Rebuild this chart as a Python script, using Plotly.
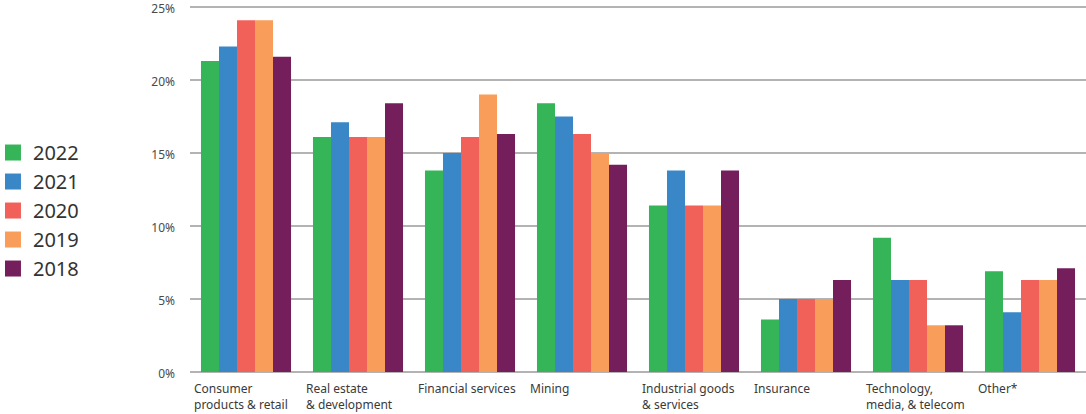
import plotly.graph_objects as go

categories = ["Consumer<br>products & retail", "Real estate<br>& development", "Financial services",
              "Mining", "Industrial goods<br>& services", "Insurance",
              "Technology,<br>media, & telecom", "Other*"]
years = ["2022", "2021", "2020", "2019", "2018"]
v2022 = [21.3, 16.1, 13.8, 18.4, 11.4, 3.6, 9.2, 6.9]
v2021 = [22.3, 17.1, 15.0, 17.5, 13.8, 5.0, 6.3, 4.1]
v2020 = [24.1, 16.1, 16.1, 16.3, 11.4, 5.0, 6.3, 6.3]
v2019 = [24.1, 16.1, 19.0, 15.0, 11.4, 5.0, 3.2, 6.3]
v2018 = [21.6, 18.4, 16.3, 14.2, 13.8, 6.3, 3.2, 7.1]
series = [v2022, v2021, v2020, v2019, v2018]
colors = ["#35b558", "#3a87c8", "#f2605a", "#f89d5a", "#751e5c"]
yticks = [0, 5, 10, 15, 20, 25]

FONT = "Noto Sans"
fig = go.Figure()
xs = list(range(len(categories)))
for name, vals, c in zip(years, series, colors):
    fig.add_trace(go.Bar(x=xs, y=vals, name=name, marker=dict(color=c, line=dict(width=0)),
                         showlegend=False))
    fig.add_trace(go.Scatter(x=[None], y=[None], mode="markers", name=name,
                             marker=dict(symbol="square", size=17, color=c),
                             legendgroup=name, showlegend=True))

for i, cat in enumerate(categories):
    fig.add_annotation(x=i, y=0, xref="x", yref="y", text=cat, showarrow=False,
                       xanchor="left", yanchor="top", align="left", xshift=-56 + 2, yshift=-6,
                       font=dict(family=FONT, size=12, color="#3a3a3a"))

fig.update_layout(
    width=1086, height=414,
    margin=dict(l=190, r=0, t=5, b=42, autoexpand=False),
    plot_bgcolor="white", paper_bgcolor="white",
    barmode="group", bargap=0.196, bargroupgap=0,
    font=dict(family=FONT, color="#444"),
    xaxis=dict(range=[-0.5, len(categories) - 0.5], showticklabels=False, showgrid=False,
               zeroline=False, showline=False, ticks="", automargin=False),
    yaxis=dict(range=[0, 25.137], tickvals=yticks, ticktext=[f"{t}%" for t in yticks],
               showgrid=True, gridcolor="#b3b3b3", gridwidth=1.6, zeroline=True,
               zerolinecolor="#b3b3b3", zerolinewidth=2, showline=False,
               ticks="", ticklabelstandoff=14, ticklabelshift=2, automargin=False,
               ticklabeloverflow="allow",
               tickfont=dict(family=FONT, size=12, color="#4a4a4a")),
    legend=dict(x=-0.2199, xanchor="left", y=0.44, yanchor="middle",
                font=dict(family=FONT, size=20, color="#333"),
                tracegroupgap=0, bgcolor="rgba(0,0,0,0)"),
    showlegend=True,
)
fig.write_html("out.html", config={"displayModeBar": False},
               post_script="document.body.style.margin='0';document.body.style.padding='0';")
